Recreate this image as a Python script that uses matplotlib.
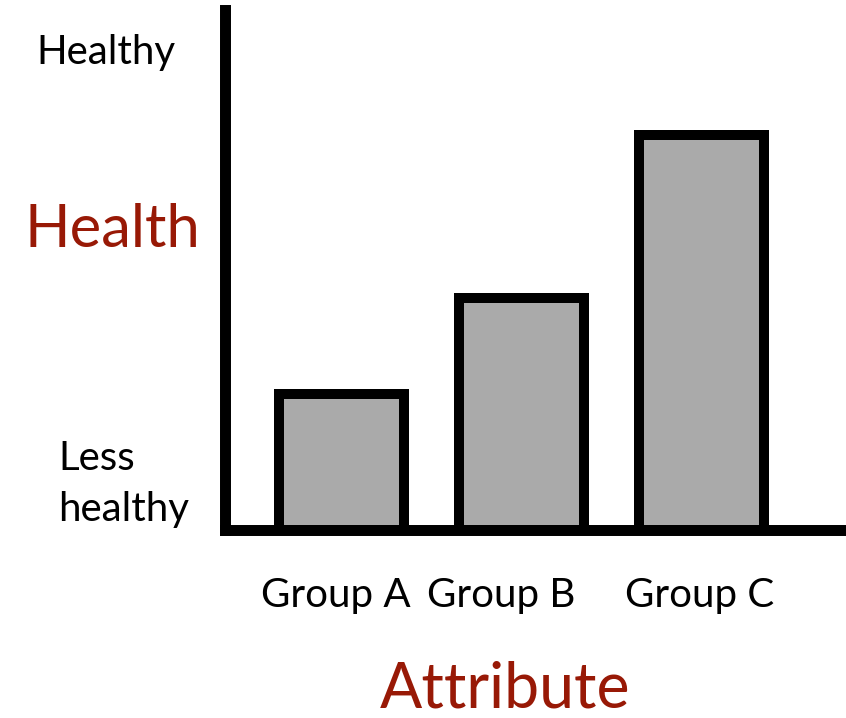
import matplotlib
matplotlib.use("Agg")
import matplotlib.pyplot as plt
import matplotlib.transforms as mtransforms

plt.rcParams['font.family'] = ['Lato', 'DejaVu Sans']

groups = ['Group A', 'Group B', 'Group C']
health = [2.6, 4.45, 7.6]
y_top_label = 'Healthy'
y_bottom_label = 'Less\nhealthy'
x_title = 'Attribute'
y_title = 'Health'

dark_red = '#981906'
bar_grey = '#aaaaaa'

fig = plt.figure(figsize=(8.46, 7.18), dpi=100)
ax = fig.add_axes([224.5 / 846, 1 - 529.5 / 718, 1 - 224.5 / 846, (529.5 - 10) / 718])

x = list(range(len(groups)))
ax.bar(x, health, width=0.694, color=bar_grey, edgecolor='black', linewidth=7.2,
       clip_on=False, zorder=2)

ax.set_xlim(-0.65, 2.803)
ax.set_ylim(0, 10)

for side in ['top', 'right']:
    ax.spines[side].set_visible(False)
for side in ['left', 'bottom']:
    ax.spines[side].set_linewidth(7.9)
    ax.spines[side].set_zorder(3)
ax.set_xticks([])
ax.set_yticks([])

# group labels sit a little left of their bars, like in the slide
label_shift = [-0.03, -0.11, -0.01]
trans = mtransforms.blended_transform_factory(ax.transData, fig.transFigure)
for xi, name, s in zip(x, groups, label_shift):
    ax.text(xi + s, 1 - 607 / 718, name, transform=trans, ha='center',
            va='baseline', fontsize=29, color='black')

fig.text(106 / 846, 1 - 64 / 718, y_top_label, ha='center', va='baseline', fontsize=29)
fig.text(58 / 846, 1 - 521 / 718, y_bottom_label, ha='left', va='baseline', fontsize=29,
         linespacing=1.45)
fig.text(112 / 846, 1 - 247 / 718, y_title, ha='center', va='baseline', fontsize=43,
         color=dark_red)
fig.text(505 / 846, 1 - 708 / 718, x_title, ha='center', va='baseline', fontsize=45,
         color=dark_red)

fig.savefig('out.png', dpi=100)
